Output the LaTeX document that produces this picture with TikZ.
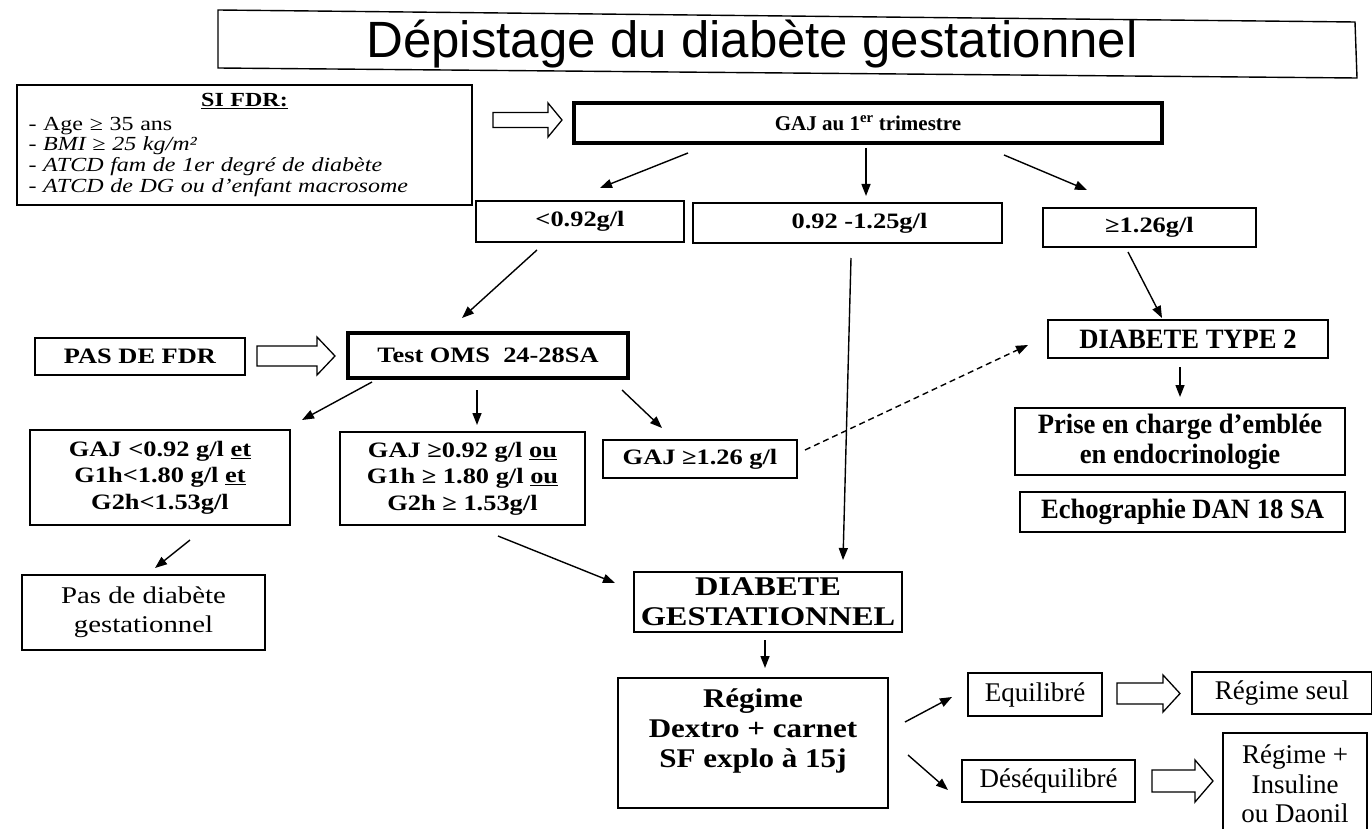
\documentclass[tikz,border=0pt]{standalone}
\usepackage{fontspec}
\setmainfont{Liberation Serif}
\newfontfamily\titlefont{Liberation Sans}
\newfontfamily\condfont{Liberation Serif}[FakeStretch=0.95]
\newfontfamily\widefont{Liberation Serif}[FakeStretch=1.2]
\newfontfamily\widerfont{Liberation Serif}[FakeStretch=1.15]
\usetikzlibrary{arrows.meta}
\newcommand\fsL{\widefont\fontsize{20}{20.8}\selectfont}
\newcommand\fsB{\widefont\fontsize{22}{26.5}\selectfont\bfseries}
\newcommand\fsG{\fontsize{21}{25}\selectfont\bfseries}
\newcommand\fsC{\condfont\fontsize{28}{30}\selectfont\bfseries}
\newcommand\fsW{\widefont\fontsize{27}{30}\selectfont\bfseries}
\newcommand\fsX{\widerfont\fontsize{27}{30}\selectfont\bfseries}
\newcommand\fsR{\fontsize{27}{29.5}\selectfont}
\newcommand\hollowarrow[6]{%
  \draw[line width=1.3pt] (#1,#3-#4) -- (#6,#3-#4) -- (#6,#3-#5) -- (#2,#3)
    -- (#6,#3+#5) -- (#6,#3+#4) -- (#1,#3+#4) -- cycle;}
\begin{document}
\begin{tikzpicture}[x=1pt,y=-1pt,
  box/.style={draw, line width=1.4pt, inner sep=0pt, align=center},
  thickbox/.style={box, line width=3.5pt},
  arr/.style={line width=1.4pt, -{Triangle[length=12pt,width=9pt]}}]
\useasboundingbox (0,0) rectangle (1372,829);
% title
\draw[line width=1.4pt] (218,10) -- (1355,22) -- (1357,78) -- (218,68) -- cycle;
\node[font=\titlefont\fontsize{51}{58}\selectfont] (title) at (752,44) {Dépistage du diabète gestationnel};
% FDR box
\node[box, minimum width=455pt, minimum height=120pt, text width=432pt, align=left, font=\fsL] (fdr) at (244.5,145)
  {\makebox[432pt]{\fontsize{20}{22}\selectfont\bfseries\underline{SI FDR:}}\\[3pt]
   - Age ≥ 35 ans\\
   - \textit{BMI ≥ 25 kg/m²}\\
   - \textit{ATCD fam de 1er degré de diabète}\\
   - \textit{ATCD de DG ou d’enfant macrosome}};
\node[thickbox, minimum width=588pt, minimum height=40pt, font=\fsG] (gaj) at (868,123) {GAJ au 1\textsuperscript{er} trimestre};
\node[box, minimum width=208pt, minimum height=41pt, font=\fsB] (lt092) at (580,221.5) {<0.92g/l};
\node[box, minimum width=309pt, minimum height=40pt, font=\fsB] (mid) at (847.5,223) {\hspace*{24pt}0.92 -1.25g/l};
\node[box, minimum width=213pt, minimum height=39pt, font=\fsB] (ge126) at (1149.5,227.5) {≥1.26g/l};
\node[box, minimum width=210pt, minimum height=37pt, font=\fsB] (pasfdr) at (140,356.5) {PAS DE FDR};
\node[thickbox, minimum width=280pt, minimum height=45pt, font=\fsB] (oms) at (488,355.5) {Test OMS~~24-28SA};
\node[box, minimum width=260pt, minimum height=95pt, font=\fsB] (leftres) at (160,477.5)
  {GAJ <0.92 g/l \underline{et}\\G1h<1.80 g/l \underline{et}\\G2h<1.53g/l};
\node[box, minimum width=245pt, minimum height=93pt, font=\fsB] (midres) at (462.5,478.5)
  {GAJ ≥0.92 g/l \underline{ou}\\G1h ≥ 1.80 g/l \underline{ou}\\G2h ≥ 1.53g/l};
\node[box, minimum width=194pt, minimum height=38pt, font=\fsB] (ge126b) at (700,459) {GAJ ≥1.26 g/l};
\node[box, minimum width=280pt, minimum height=38pt, font=\fsC] (dt2) at (1188,339) {DIABETE TYPE 2};
\node[box, minimum width=330pt, minimum height=67pt, font=\fsC] (prise) at (1180,441.5) {Prise en charge d’emblée\\en endocrinologie};
\node[box, minimum width=325pt, minimum height=40pt, font=\fsC] (echo) at (1182.5,512) {Echographie DAN 18 SA};
\node[box, minimum width=243pt, minimum height=75pt, font=\widefont\fontsize{24}{29}\selectfont] (pasdiab) at (143.5,612.5) {Pas de diabète\\gestationnel};
\node[box, minimum width=268pt, minimum height=60pt, font=\fsW] (dg) at (768,602) {DIABETE\\GESTATIONNEL};
\node[box, minimum width=270pt, minimum height=130pt] (regime) at (753,743) {};
\node[font=\fsX, align=center] (regimetext) at (753,731) {Régime\\Dextro + carnet\\SF explo à 15j};
\node[box, minimum width=134pt, minimum height=43pt, font=\fsR] (equi) at (1035,694.5) {Equilibré};
\node[box, minimum width=180pt, minimum height=42pt, font=\fsR] (rseul) at (1282,693) {Régime seul};
\node[box, minimum width=173pt, minimum height=42pt, font=\fsR] (deseq) at (1048.5,781) {Déséquilibré};
\node[box, minimum width=144pt, minimum height=102pt, font=\fsR] (rinsu) at (1295,784) {Régime +\\Insuline\\ou Daonil};
% hollow arrows
\hollowarrow{493}{562}{120}{7.5}{17}{548}
\hollowarrow{257}{335}{356}{10}{19}{317}
\hollowarrow{1117}{1180}{693.5}{10.5}{18.5}{1163}
\hollowarrow{1152}{1213}{781}{11}{21}{1195}
% connectors
\draw[arr] ([shift={(-180,30)}]gaj.center) -- ([shift={(20,-33.5)}]lt092.center);
\draw[arr] ([shift={(-2,25)}]gaj.center) -- ([shift={(18.5,-27)}]mid.center);
\draw[arr] ([shift={(136,32)}]gaj.center) -- ([shift={(-62.5,-37.5)}]ge126.center);
\draw[arr] ([shift={(-43,28.5)}]lt092.center) -- ([shift={(-26,-37.5)}]oms.center);
\draw[arr] ([shift={(-21.5,24.5)}]ge126.center) -- ([shift={(-26,-21)}]dt2.center);
\draw[arr] ([shift={(3.5,35)}]mid.center) -- ([shift={(75,-42)}]dg.center);
\draw[arr] ([shift={(-116,26.5)}]oms.center) -- ([shift={(142,-57.5)}]leftres.center);
\draw[arr] ([shift={(-11,34.5)}]oms.center) -- ([shift={(14.5,-53.5)}]midres.center);
\draw[arr] ([shift={(134,34.5)}]oms.center) -- ([shift={(-38,-31)}]ge126b.center);
\draw[arr] ([shift={(30,62.5)}]leftres.center) -- ([shift={(11.5,-44.5)}]pasdiab.center);
\draw[arr] ([shift={(35.5,57.5)}]midres.center) -- ([shift={(-153,-19)}]dg.center);
\draw[arr, dash pattern=on 6pt off 4pt] ([shift={(105,-9)}]ge126b.center) -- ([shift={(-160,6)}]dt2.center);
\draw[arr] ([shift={(-8,28)}]dt2.center) -- ([shift={(0,-44.5)}]prise.center);
\draw[arr] ([shift={(-3,38)}]dg.center) -- ([shift={(12,-75)}]regime.center);
\draw[arr] ([shift={(152,-21)}]regime.center) -- ([shift={(-83,2.5)}]equi.center);
\draw[arr] ([shift={(155,12)}]regime.center) -- ([shift={(-100.5,9)}]deseq.center);
\end{tikzpicture}
\end{document}
